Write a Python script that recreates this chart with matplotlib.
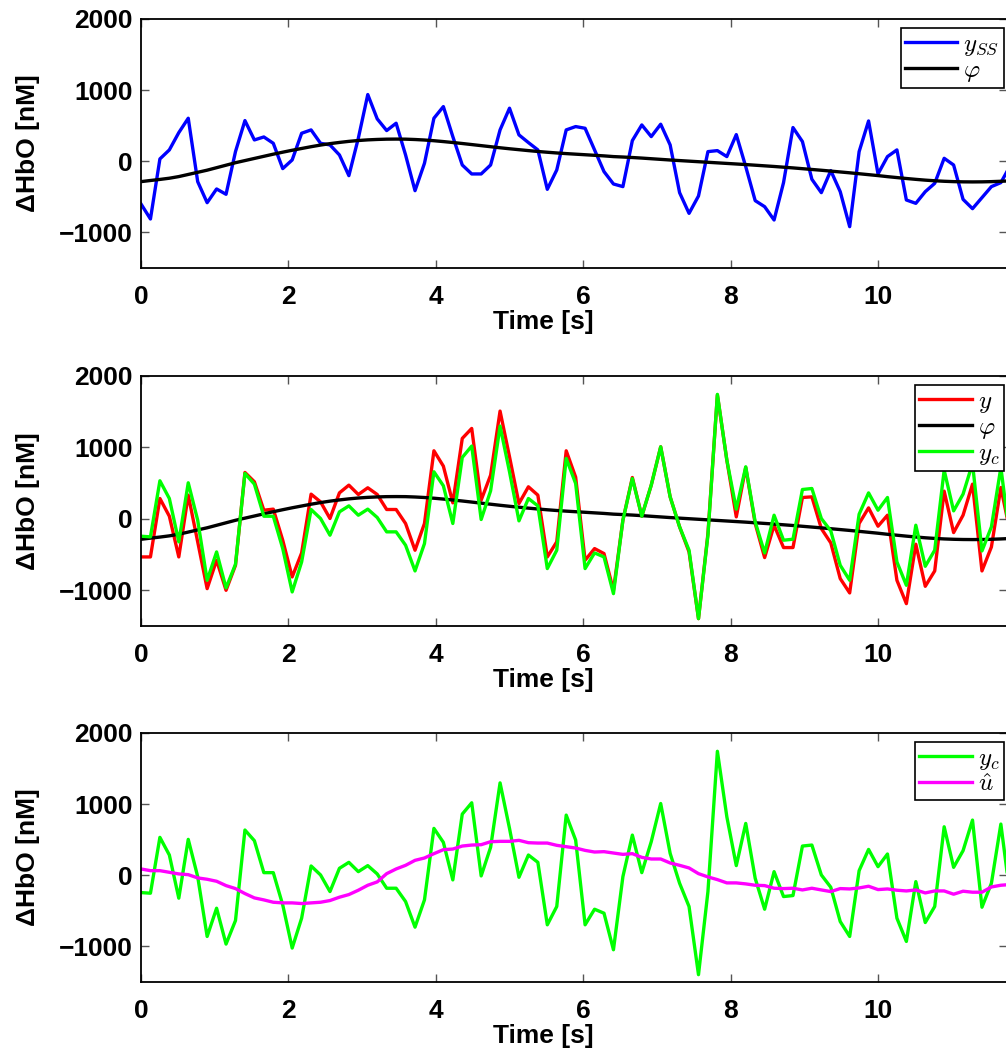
import numpy as np
import matplotlib
matplotlib.use("Agg")
import matplotlib.pyplot as plt

plt.rcParams["font.family"] = ["Liberation Sans", "DejaVu Sans"]
plt.rcParams["font.weight"] = "bold"
plt.rcParams["mathtext.fontset"] = "cm"

fs = 7.8  # sampling rate [Hz]

y_ss = [-600, -811, 33, 160, 403, 605, -286, -582, -389, -464,
        136, 572, 300, 342, 253, -103, 19, 394, 441, 253,
        230, 89, -202, 324, 938, 596, 432, 535, 89, -413,
        -28, 605, 769, 347, -52, -178, -178, -52, 441, 746,
        371, 263, 160, -394, -122, 441, 488, 464, 160, -145,
        -319, -356, 291, 511, 347, 521, 230, -441, -732, -488,
        136, 150, 66, 375, -75, -553, -638, -825, -300, 474,
        277, -253, -441, -131, -427, -919, 136, 567, -178, 66,
        160, -544, -591, -427, -310, 42, -52, -535, -666, -511,
        -356, -300, -60]

phi = [-286, -270, -255, -238, -215, -185, -155, -125, -90, -55,
       -20, 10, 40, 70, 100, 128, 155, 180, 205, 228,
       248, 265, 280, 292, 301, 307, 311, 312, 311, 306,
       299, 289, 277, 264, 250, 235, 220, 205, 190, 176,
       163, 150, 138, 127, 117, 108, 100, 92, 84, 76,
       66, 60, 53, 45, 36, 27, 18, 10, 2, -6,
       -14, -22, -30, -38, -46, -55, -64, -73, -83, -93,
       -104, -115, -126, -138, -150, -162, -175, -188, -201, -216,
       -229, -242, -254, -265, -274, -281, -286, -289, -290, -289,
       -286, -281, -275]

y_raw = [-533, -533, 285, 37, -533, 332, -322, -977, -579, -1000,
         -650, 650, 519, 121, 136, -299, -813, -477, 346, 238,
         5, 364, 472, 341, 435, 341, 131, 131, -65, -439,
         -65, 953, 738, 224, 1126, 1266, 262, 612, 1509, 869,
         215, 449, 332, -533, -322, 953, 584, -579, -416, -486,
         -1000, -19, 579, 37, 472, 1009, 308, -112, -463, -1397,
         -206, 1734, 822, 28, 720, -65, -542, -89, -402, -402,
         299, 308, -136, -336, -836, -1037, -65, 154, -103, 51,
         -860, -1187, -355, -944, -729, 388, -192, 51, 486, -729,
         -393, 439, -200]

y_c = [-243, -252, 533, 285, -322, 505, -19, -860, -463, -967,
       -636, 636, 486, 37, 37, -416, -1023, -603, 131, 5,
       -229, 98, 182, 51, 136, 19, -182, -182, -369, -729,
       -346, 659, 463, -65, 860, 1019, -9, 393, 1299, 659,
       -28, 285, 182, -696, -439, 846, 495, -696, -477, -533,
       -1047, -19, 565, 37, 472, 1009, 308, -112, -439, -1397,
       -229, 1743, 822, 136, 729, -42, -477, 51, -299, -285,
       411, 425, 5, -168, -650, -860, 65, 364, 121, 299,
       -603, -930, -89, -664, -439, 682, 112, 346, 776, -449,
       -112, 720, -310]

u_hat = [89, 65, 65, 42, 19, 9, -37, -56, -84, -145,
         -187, -257, -318, -346, -379, -388, -388, -397, -388, -379,
         -355, -308, -271, -210, -140, -93, 23, 89, 140, 210,
         243, 304, 360, 369, 411, 425, 430, 472, 477, 477,
         491, 458, 453, 453, 421, 402, 383, 350, 327, 332,
         313, 294, 304, 252, 229, 229, 173, 140, 103, 23,
         -23, -61, -107, -107, -121, -140, -145, -182, -187, -182,
         -206, -182, -206, -229, -187, -192, -178, -154, -201, -192,
         -210, -220, -206, -248, -220, -220, -266, -224, -238, -238,
         -164, -140, -130]

t = np.arange(len(y_ss)) / fs

W, H = 1006, 1056
fig = plt.figure(figsize=(W / 100, H / 100), dpi=100)

# axes boxes in pixels: left, top, bottom
left, right = 141, 1007
boxes = [(19, 268), (376, 626), (733, 982)]

panels = [
    [(y_ss, "#0000ff", r"$y_{SS}$"), (phi, "#000000", r"$\varphi$")],
    [(y_raw, "#ff0000", r"$y$"), (phi, "#000000", r"$\varphi$"), (y_c, "#00ff00", r"$y_c$")],
    [(y_c, "#00ff00", r"$y_c$"), (u_hat, "#ff00ff", r"$\hat{u}$")],
]

for (top, bot), series in zip(boxes, panels):
    ax = fig.add_axes([left / W, 1 - bot / H, (right - left) / W, (bot - top) / H])
    for vals, col, lab in series:
        ax.plot(t, vals, color=col, lw=2.4, label=lab)
    ax.set_xlim(0, 11.75)
    ax.set_ylim(-1500, 2000)
    ax.set_xticks([0, 2, 4, 6, 8, 10])
    ax.set_yticks([-1000, 0, 1000, 2000])
    ax.tick_params(direction="in", length=6, width=1, color="#555555",
                   top=True, right=True, labelsize=19)
    ax.tick_params(axis="x", pad=12)
    ax.tick_params(axis="y", pad=6)
    for lab in ax.get_xticklabels() + ax.get_yticklabels():
        lab.set_fontweight("bold")
    for sp in ax.spines.values():
        sp.set_linewidth(1.3)
    ax.set_xlabel("Time [s]", fontsize=19, fontweight="bold")
    ax.xaxis.set_label_coords(0.465, -0.17)
    ax.set_ylabel("ΔHbO [nM]", fontsize=19, fontweight="bold")
    ax.yaxis.set_label_coords(-0.117, 0.5)
    leg = ax.legend(loc="upper right", bbox_to_anchor=(0.996, 0.963), borderaxespad=0,
                    fancybox=False, framealpha=1, edgecolor="black", fontsize=18,
                    handlelength=2.1, handletextpad=0.25, labelspacing=0.0,
                    borderpad=0.15)
    leg.get_frame().set_linewidth(1.2)

fig.savefig("out.png", dpi=100)
